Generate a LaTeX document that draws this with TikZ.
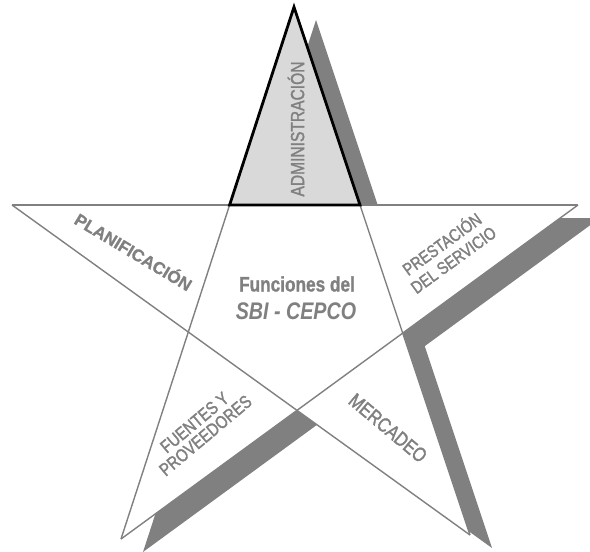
\documentclass[tikz,border=0pt]{standalone}
\usepackage{fontspec}
\setmainfont{Liberation Sans}
\newfontfamily\narrowfont[FakeStretch=0.82,FakeBold=1.6]{Liberation Sans}
\newfontfamily\narrowbold[FakeStretch=0.82,BoldFeatures={FakeBold=1}]{Liberation Sans}
\newfontfamily\widebold[BoldFeatures={FakeBold=1}]{Liberation Sans}
\definecolor{midgray}{HTML}{808080}
\definecolor{tipgray}{HTML}{D9D9D9}

\begin{document}
\begin{tikzpicture}[x=1pt,y=-1pt,
every node/.style={text=midgray,align=center,inner sep=0pt},
edge/.style={draw=midgray,line width=1.4pt},
shadowfill/.style={fill=midgray},
tipbox/.style={fill=tipgray,draw=black,line width=2.8pt},
lbl/.style={font=\narrowfont\fontsize{18}{17}\selectfont}
]
\useasboundingbox (0,0) rectangle (590,552);
% outer points of the star
\coordinate (top) at (294,7);
\coordinate (rgt) at (578,205);
\coordinate (brt) at (470,535);
\coordinate (blf) at (121,539);
\coordinate (lft) at (12,205);
% inner points
\coordinate (itl) at (intersection of top--blf and lft--rgt);
\coordinate (itr) at (intersection of top--brt and lft--rgt);
\coordinate (irt) at (intersection of top--brt and rgt--blf);
\coordinate (ibt) at (intersection of lft--brt and rgt--blf);
\coordinate (ilf) at (intersection of top--blf and lft--brt);
% shadow
\begin{scope}[transform canvas={shift={(22,13)}}]
\fill[shadowfill] (top) -- (itr) -- (rgt) -- (irt) -- (brt) -- (ibt) -- (blf) -- (ilf) -- (lft) -- (itl) -- cycle;
\end{scope}
\fill[white] (top) -- (itr) -- (rgt) -- (irt) -- (brt) -- (ibt) -- (blf) -- (ilf) -- (lft) -- (itl) -- cycle;
\draw[edge] (lft) -- (rgt); \draw[edge] (top) -- (blf); \draw[edge] (top) -- (brt);
\draw[edge] (lft) -- (brt); \draw[edge] (rgt) -- (blf);
\filldraw[tipbox] (top) -- (itr) -- (itl) -- cycle;
% labels
\node[lbl,font=\narrowfont\fontsize{19}{20}\selectfont,rotate=90] (adm) at (296,129) {ADMINISTRACIÓN};
\node[font=\widebold\bfseries\fontsize{17}{18}\selectfont,rotate=-31] (plan) at (134,251) {PLANIFICACIÓN};
\node[lbl,font=\narrowfont\fontsize{17.5}{19.5}\selectfont,rotate=36] (prest) at (447,251) {PRESTACIÓN\\DEL SERVICIO};
\node[lbl,rotate=40] (fuen) at (200,429) {FUENTES Y\\PROVEEDORES};
\node[lbl,font=\narrowfont\fontsize{20}{21}\selectfont,rotate=-40] (merc) at (388,428) {MERCADEO};
\node[font=\narrowbold\bfseries\fontsize{21}{22}\selectfont] (func) at (297,284) {Funciones del};
\node[font=\narrowbold\bfseries\itshape\fontsize{24}{25}\selectfont] (sbi) at (296,311) {SBI - CEPCO};
\end{tikzpicture}
\end{document}
